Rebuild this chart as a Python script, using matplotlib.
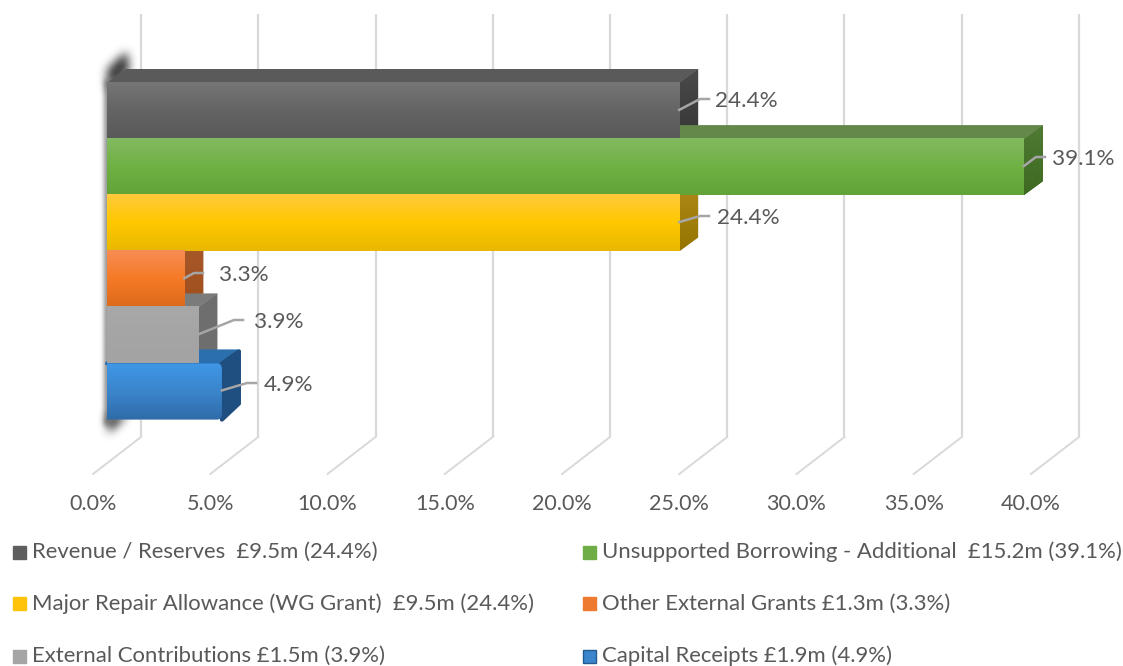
import numpy as np
import matplotlib
matplotlib.use("Agg")
import matplotlib.pyplot as plt
from matplotlib.patches import Polygon, Rectangle
from matplotlib.path import Path
from matplotlib.colors import LinearSegmentedColormap

categories = ["Revenue / Reserves", "Unsupported Borrowing - Additional", "Major Repair Allowance (WG Grant)",
              "Other External Grants", "External Contributions", "Capital Receipts"]
shares = [24.4, 39.1, 24.4, 3.3, 3.9, 4.9]
legend_labels = ["Revenue / Reserves  £9.5m (24.4%)", "Unsupported Borrowing - Additional  £15.2m (39.1%)",
                 "Major Repair Allowance (WG Grant)  £9.5m (24.4%)", "Other External Grants £1.3m (3.3%)",
                 "External Contributions £1.5m (3.9%)", "Capital Receipts £1.9m (4.9%)"]
ticks = [0, 5, 10, 15, 20, 25, 30, 35, 40]
top_c = ["#767676", "#82ba60", "#ffca3c", "#f78d54", "#a8a8a8", "#3f97e6"]
mid_c = ["#646464", "#6fb143", "#ffc800", "#f57a26", "#a5a5a5", "#3a85cc"]
bot_c = ["#595959", "#63a338", "#e8b800", "#de6a1c", "#a3a3a3", "#2f6ca8"]
roof_c = ["#5a5a5a", "#63884a", "#bf9a20", "#b5622f", "#7b7b7b", "#2c6fae"]
side_top = ["#4a4a4a", "#4f7a33", "#b08a1a", "#a85a2c", "#6e6e6e", "#2b6aa6"]
side_bot = ["#363636", "#3f6a22", "#957500", "#a04e1c", "#6e6e6e", "#1f4f80"]
leg_c = ["#5e5e5e", "#6fae46", "#ffc40a", "#ee7a30", "#a5a5a5", "#3a85cc"]
leg_e = ["#5e5e5e", "#6fae46", "#ffc40a", "#ee7a30", "#a5a5a5", "#235a90"]

W, H = 1123, 666
PX_PER_PCT = 23.45
X0 = 107
Y0 = 83
BH = 56.1
fig = plt.figure(figsize=(W/100, H/100), dpi=100)
ax = fig.add_axes([0, 0, 1, 1])
ax.set_xlim(-X0/PX_PER_PCT, (W-X0)/PX_PER_PCT)
ax.set_ylim(-0.5 + (H-Y0)/BH, -0.5 - Y0/BH)
ax.axis("off")
ax.set_autoscale_on(False)
fam = ["Lato", "DejaVu Sans"]
dx, dy = 19/PX_PER_PCT, 14/BH

def px(x): return (x-X0)/PX_PER_PCT
def py(y): return -0.5 + (y-Y0)/BH

def soft_blob(poly, x0, x1, y0, y1, blur, color, alpha, z):
    """Blurred polygon, drawn as an RGBA image given in pixel bounds."""
    xs, ys = np.meshgrid(np.arange(x0, x1)+.5, np.arange(y0, y1)+.5)
    m = Path(poly).contains_points(np.c_[xs.ravel(), ys.ravel()]).reshape(xs.shape).astype(float)
    k = np.ones(blur)/blur
    for _ in range(3):
        m = np.apply_along_axis(lambda r: np.convolve(r, k, "same"), 0, m)
        m = np.apply_along_axis(lambda r: np.convolve(r, k, "same"), 1, m)
    img = np.zeros(m.shape + (4,))
    img[..., :3] = matplotlib.colors.to_rgb(color)
    img[..., 3] = np.clip(m*alpha, 0, 1)
    ax.imshow(img, extent=(px(x0), px(x1), py(y1), py(y0)), aspect="auto", zorder=z, interpolation="bilinear")

# gridlines, back wall + floor
for t in ticks:
    xb = t + 34/PX_PER_PCT
    ax.plot([xb, xb], [py(14), py(437)], color="#d9d9d9", lw=1.6, zorder=1, solid_capstyle="butt")
    ax.plot([xb, xb-48/PX_PER_PCT], [py(437), py(474)], color="#d9d9d9", lw=1.4, zorder=1)
    ax.text(t - 14/PX_PER_PCT, py(504), f"{t:.1f}%", ha="center", va="center", fontsize=15.5, color="#595959", family=fam)

# soft shadow at the left edge and corners
soft_blob([(107, 90), (107, 70), (118, 58), (128, 52), (129, 72)], 80, 160, 20, 120, 9, "#4a4a4a", 1.1, 2.2)
soft_blob([(105, 80), (109, 80), (109, 425), (105, 425)], 80, 130, 50, 455, 5, "#555555", 1.0, 2.3)
soft_blob([(106, 415), (128, 415), (109, 433)], 80, 160, 390, 470, 9, "#4a4a4a", 1.1, 2.2)

# bars
n = len(shares)
for i in range(n):
    v = shares[i]
    t_, b_ = i-.5, i+.5
    join = "round" if i == n-1 else "miter"
    lw = 3 if i == n-1 else 0
    rd = 2/PX_PER_PCT if i == n-1 else 0
    rdy = 2/BH if i == n-1 else 0
    ax.add_patch(Polygon([(0, t_), (dx, t_-dy+rdy), (v+dx-rd, t_-dy+rdy), (v, t_)], fc=roof_c[i], ec=roof_c[i] if lw else "none", lw=lw, joinstyle=join, zorder=3+i*.1))
    sm = LinearSegmentedColormap.from_list("sd", [side_top[i], side_bot[i]])
    side = Polygon([(v, t_), (v+dx-rd, t_-dy+rdy), (v+dx-rd, b_-dy-rdy), (v, b_)], fc=side_bot[i], ec=side_bot[i] if lw else "none", lw=lw, joinstyle=join, zorder=3+i*.1)
    ax.add_patch(side)
    if not lw:
        im = ax.imshow(np.linspace(0, 1, 32).reshape(-1, 1), extent=(v, v+dx, b_, t_-dy), cmap=sm, aspect="auto", zorder=3.05+i*.1, interpolation="bilinear")
        im.set_clip_path(Polygon([(v, t_), (v+dx, t_-dy), (v+dx, b_-dy), (v, b_)], transform=ax.transData))
for i in range(n):
    v = shares[i]
    cm = LinearSegmentedColormap.from_list("b", [top_c[i], mid_c[i], bot_c[i]])
    im = ax.imshow(np.linspace(0, 1, 64).reshape(-1, 1), extent=(0, v, i+.5, i-.5), cmap=cm, aspect="auto", zorder=4, interpolation="bilinear")
    if i == n-1:
        c, cy = 4/PX_PER_PCT, 4/BH
        im.set_clip_path(Polygon([(0, i-.5), (v-c, i-.5), (v-c*.3, i-.5+cy*.3), (v, i-.5+cy),
                                  (v, i+.5-cy), (v-c*.3, i+.5-cy*.3), (v-c, i+.5), (0, i+.5)], transform=ax.transData))

# data labels with leader lines
lab_px = [(746, 101), (1083, 159), (748, 218), (244, 275), (279, 322), (288, 385)]
lead_end = [709, 1045, 709, 203, 243, 256]
for i, v in enumerate(shares):
    lx, ly = lab_px[i]
    sy = i - 0.02
    elbow = px(lead_end[i]-9)
    ax.plot([v, elbow, px(lead_end[i])], [sy, py(ly-2), py(ly-2)], color="#a6a6a6", lw=1.8, zorder=5)
    ax.text(px(lx), py(ly), f"{v:.1f}%", ha="center", va="center", fontsize=16.2, color="#595959", family=fam, zorder=6)

# legend
leg_pos = [(13, 552), (583, 552), (13, 604), (583, 604), (13, 656), (583, 656)]
for lab, c, e, (lx, ly) in zip(legend_labels, leg_c, leg_e, leg_pos):
    ax.add_patch(Rectangle((px(lx), py(ly-6.5)), 13/PX_PER_PCT, 13/BH, fc=c, ec=e, lw=1, zorder=5))
    ax.text(px(lx+19.5), py(ly), lab, ha="left", va="center", fontsize=15.9, color="#595959", family=fam)

fig.savefig("out.png", dpi=100)
